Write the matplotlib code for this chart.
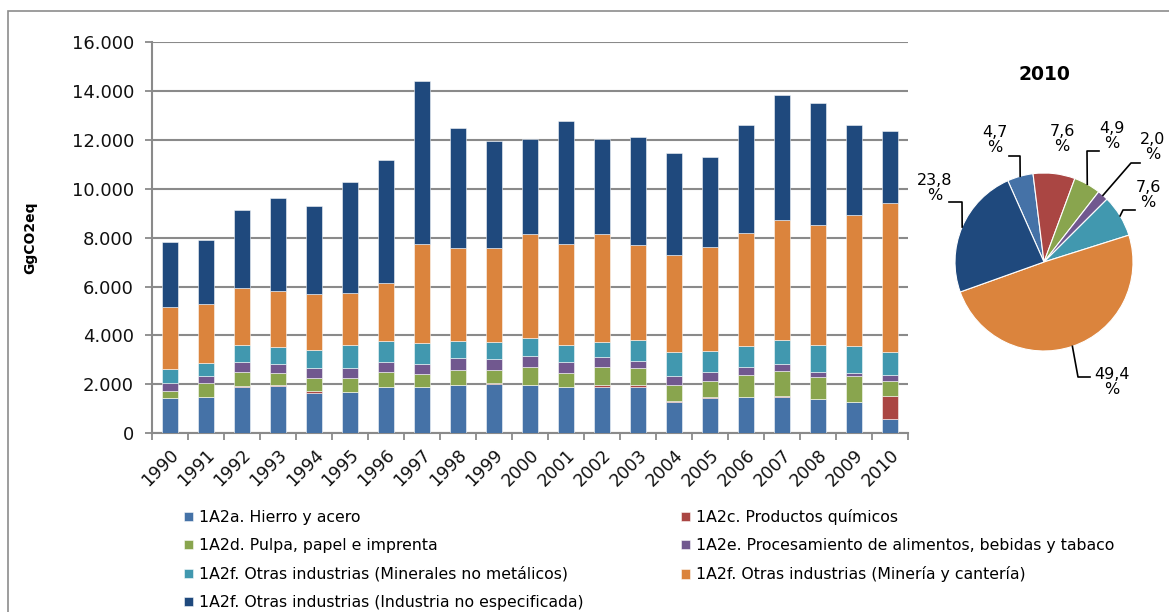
import numpy as np
import matplotlib
matplotlib.use("Agg")
import matplotlib.pyplot as plt
from matplotlib.patches import Rectangle
from matplotlib.lines import Line2D

# data (GgCO2eq)
years = [str(y) for y in range(1990, 2011)]
hierro = [1450, 1495, 1900, 1920, 1655, 1700, 1900, 1900, 1960, 2000, 1960,
          1880, 1900, 1900, 1265, 1430, 1470, 1495, 1410, 1265, 581]
quimicos = [0, 0, 40, 50, 60, 0, 0, 0, 0, 55, 0,
            20, 55, 70, 40, 40, 20, 25, 10, 15, 940]
pulpa = [290, 545, 560, 480, 530, 545, 590, 530, 625, 515, 760,
         575, 745, 695, 680, 665, 890, 1035, 880, 1045, 605]
alimentos = [325, 310, 420, 380, 410, 435, 430, 410, 500, 475, 425,
             425, 420, 275, 365, 380, 315, 285, 205, 145, 247]
minerales = [545, 505, 710, 680, 760, 940, 860, 855, 670, 695, 760,
             720, 630, 880, 955, 855, 855, 980, 1090, 1120, 940]
mineria = [2555, 2420, 2325, 2300, 2275, 2110, 2365, 4055, 3820, 3855, 4235,
           4140, 4380, 3865, 3970, 4245, 4655, 4915, 4940, 5345, 6109]
no_espec = [2655, 2640, 3170, 3825, 3590, 4540, 5035, 6640, 4925, 4365, 3905,
            5020, 3905, 4435, 4205, 3675, 4390, 5100, 4980, 3675, 2943]

labels = ["1A2a. Hierro y acero",
          "1A2c. Productos químicos",
          "1A2d. Pulpa, papel e imprenta",
          "1A2e. Procesamiento de alimentos, bebidas y tabaco",
          "1A2f. Otras industrias (Minerales no metálicos)",
          "1A2f. Otras industrias (Minería y cantería)",
          "1A2f. Otras industrias (Industria no especificada)"]
colors = ["#4572A7", "#AA4643", "#89A54E", "#71588F", "#4198AF", "#DB843D", "#1F497D"]
series = [hierro, quimicos, pulpa, alimentos, minerales, mineria, no_espec]

W, H = 1169, 612
fig = plt.figure(figsize=(W / 100, H / 100), dpi=100)
grid_c = "#8a8a8a"

# outer frame of the chart object
fig.patches.append(Rectangle((8 / W, -0.1), 1.2, (H - 11) / H + 0.1,
                             transform=fig.transFigure, fill=False,
                             ec="#8c8c8c", lw=1.2))

# stacked bars
ax = fig.add_axes([152 / W, (H - 433.3) / H, 756 / W, 391.3 / H])
x = np.arange(len(years))
bottom = np.zeros(len(years))
for vals, col, lab in zip(series, colors, labels):
    ax.bar(x, vals, width=0.42, bottom=bottom, color=col, label=lab,
           edgecolor=(1, 1, 1, 0.6), linewidth=0.6, zorder=3)
    bottom += np.array(vals)

ax.set_xlim(-0.5, len(years) - 0.5)
ax.set_ylim(0, 16000)
ax.set_yticks(np.arange(0, 16001, 2000))
ax.set_yticklabels([f"{v:,}".replace(",", ".") for v in range(0, 16001, 2000)])
ax.yaxis.grid(True, color=grid_c, lw=1.5, zorder=0)
ax.set_axisbelow(True)
for s in ["top", "right"]:
    ax.spines[s].set_visible(False)
for s in ["left", "bottom"]:
    ax.spines[s].set_color(grid_c)
    ax.spines[s].set_linewidth(1.5)
ax.tick_params(axis="y", length=5, width=1.3, color=grid_c, labelsize=13,
               pad=8, labelcolor="#111111")
ax.set_xticks(x)
ax.set_xticklabels(years, rotation=45, ha="right", va="top",
                   rotation_mode="anchor", fontsize=12.5, color="#111111")
ax.tick_params(axis="x", which="major", length=0, pad=9)
ax.set_xticks(np.arange(-0.5, len(years), 1), minor=True)
ax.tick_params(axis="x", which="minor", length=5, width=1.3, color=grid_c)
ax.set_ylabel("GgCO2eq", fontsize=10, fontweight="bold")
ax.yaxis.set_label_coords(-0.152, 0.5)

# legend, filled row by row like the original
order = [0, 2, 4, 6, 1, 3, 5]
h, l = ax.get_legend_handles_labels()
fig.legend([h[i] for i in order], [l[i] for i in order], ncol=2,
           loc="upper left", bbox_to_anchor=(170 / W, (H - 495) / H),
           frameon=False, fontsize=11.3, handlelength=0.55, handleheight=0.55,
           handletextpad=0.4, labelspacing=0.84, columnspacing=6.2)

# pie for 2010
pie_vals = [s[-1] for s in series]
total = sum(pie_vals)
pax = fig.add_axes([900 / W, 0, (W - 900) / W, 1])
cx, cy, r = 1044, H - 262, 89
start = 114
wedges, _ = pax.pie(pie_vals, colors=colors, startangle=start, counterclock=False,
                    radius=r, center=(cx, cy), frame=True,
                    wedgeprops=dict(edgecolor="white", linewidth=0.8))
pax.set_xlim(900, W)
pax.set_ylim(0, H)
pax.axis("off")
pax.text(cx, H - 75, "2010", ha="center", va="center", fontsize=13.5,
         fontweight="bold")

# label positions (pixels from top) and leader line elbows
label_pos = [(995, 140), (1062, 139), (1112, 136), (1153, 147),
             (1148, 195), (1112, 382), (935, 188)]
elbows = [[(1009, 156), (1020, 156)], None, [(1099, 151), (1087, 151)],
          [(1140, 163), (1131, 163)], [(1135, 210), (1123, 210)],
          [(1090, 377), (1078, 377)], [(949, 202), (962, 202)]]
ang = start
for v, pos, elb in zip(pie_vals, label_pos, elbows):
    span = v / total * 360
    mid = np.radians(ang - span / 2)
    ang -= span
    pct = f"{v / total * 100:.1f}".replace(".", ",")
    pax.text(pos[0], H - pos[1], pct + "\n%", ha="center", va="center",
             fontsize=11.5, linespacing=1.05, clip_on=False)
    if elb is None:
        continue
    ex, ey = cx + r * np.cos(mid), cy + r * np.sin(mid)
    xs = [elb[0][0], elb[1][0], ex]
    ys = [H - elb[0][1], H - elb[1][1], ey]
    pax.add_line(Line2D(xs, ys, color="black", lw=1.2))

fig.savefig("out.png", dpi=100)
